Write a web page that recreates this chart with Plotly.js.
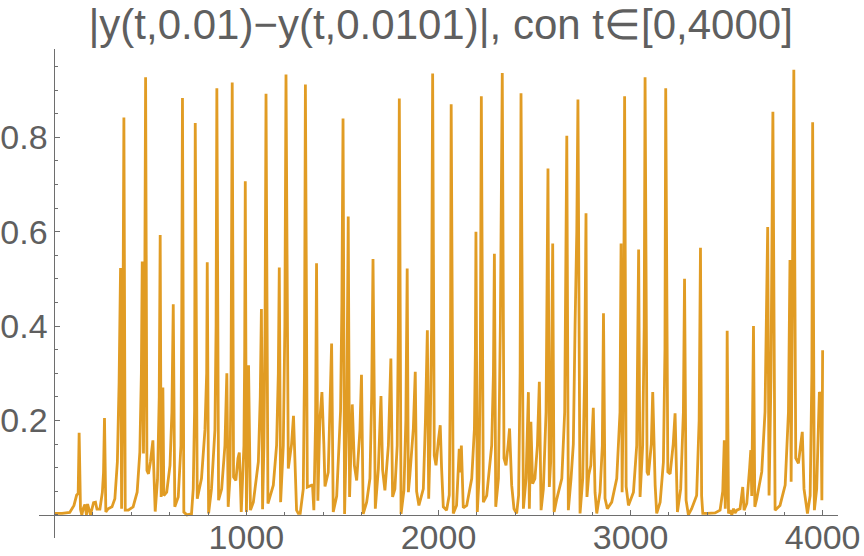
<!DOCTYPE html>
<html>
<head>
<meta charset="utf-8">
<script src="https://cdn.plot.ly/plotly-3.0.1.min.js"></script>
<style>
  html, body { margin: 0; padding: 0; background: #fff; }
  #chart { width: 864px; height: 556px; }
</style>
</head>
<body>
<div id="chart"></div>
<script>
// |y(t,0.01) - y(t,0.0101)|, t in [0,4000]
const tValues = [
  0, 40, 80, 102, 116, 124, 129, 136, 143, 150, 159, 167, 173, 180, 188, 196, 204, 214, 222, 237,
  250, 256, 261, 268, 280, 300, 315, 328, 337, 344.6, 350, 356, 362, 369, 385, 410, 431, 445, 453, 457.5,
  464, 470, 475, 482, 490, 500, 513, 519, 525, 537, 546, 551, 556, 562, 565, 570, 585, 602, 612, 619,
  627, 645, 659, 663, 667, 674, 690, 714, 723, 730, 733.5, 744, 766, 784, 793, 796, 803, 818, 836, 842,
  846, 855, 871, 888, 895, 898, 905, 914, 920, 926, 933, 945, 956, 963, 969, 973, 987, 991, 994, 1000,
  1005, 1011, 1021, 1036, 1062, 1072, 1078, 1084, 1091, 1097, 1102, 1112, 1140, 1157, 1166, 1171, 1178, 1192, 1200, 1206,
  1218, 1235, 1245, 1261, 1270, 1280, 1296, 1302, 1307, 1317, 1340, 1344, 1351, 1360, 1365, 1372, 1382, 1393, 1403, 1409,
  1426, 1437, 1443.5, 1452, 1470, 1490, 1497, 1503, 1511, 1522, 1530, 1537, 1545, 1551, 1562, 1574, 1591, 1599, 1608, 1626,
  1643, 1652, 1659, 1671, 1687, 1700.5, 1709, 1721, 1739, 1752, 1761, 1773, 1785, 1791, 1796, 1805, 1820, 1830, 1837, 1843,
  1851, 1869, 1879, 1886, 1898, 1921, 1932, 1942, 1949, 1956, 1964, 1969.5, 1978, 1987, 2000, 2009, 2016, 2025, 2042, 2056,
  2062, 2066, 2077, 2094, 2108, 2113, 2119, 2129, 2147, 2173, 2187, 2192, 2195, 2202, 2211, 2218, 2223, 2233.5, 2251, 2277,
  2286, 2291, 2298, 2312, 2322, 2332, 2341, 2351.5, 2363, 2370, 2381, 2393, 2407, 2417, 2425, 2429.6, 2442, 2456, 2468, 2473,
  2481, 2490, 2502, 2515, 2525, 2534, 2546, 2560, 2570, 2577, 2584, 2594.6, 2602, 2616, 2642, 2657, 2668, 2676, 2690, 2702,
  2711, 2720, 2726, 2737, 2751, 2761, 2768, 2773, 2782, 2793, 2806, 2815, 2824, 2841, 2853, 2859, 2867, 2879, 2902, 2928,
  2945, 2950.5, 2956, 2963, 2969, 2977, 2989, 3015, 3032, 3042, 3049.5, 3063, 3071, 3075.5, 3086, 3093, 3108, 3115.4, 3128, 3136,
  3154, 3171, 3179, 3183, 3194, 3206, 3222, 3231.7, 3244, 3261, 3275, 3281, 3289, 3301, 3318, 3344, 3357, 3364, 3370, 3376,
  3400, 3440, 3466, 3480, 3488, 3493, 3500, 3503, 3510, 3518, 3527, 3536, 3544, 3553, 3570, 3584, 3591, 3605, 3620, 3626,
  3631, 3640, 3647, 3657, 3683, 3700, 3714, 3721, 3731, 3741, 3752.5, 3778, 3805, 3822, 3830, 3836, 3843, 3850, 3860, 3874,
  3886, 3894, 3903, 3921, 3935, 3944, 3948, 3957, 3969, 3983, 3991, 3996, 4000
];
const diffValues = [
  0.003, 0.003, 0.005, 0.02, 0.042, 0.045, 0.174, 0.012, 0.0, 0.013, 0.022, 0.0, 0.023, 0.01, 0.0, 0.013, 0.026, 0.027, 0.012, 0.012,
  0.048, 0.09, 0.205, 0.006, 0.013, 0.017, 0.034, 0.112, 0.28, 0.523, 0.013, 0.28, 0.842, 0.01, 0.01, 0.017, 0.048, 0.133, 0.3, 0.537,
  0.13, 0.4, 0.927, 0.094, 0.087, 0.112, 0.158, 0.08, 0.007, 0.075, 0.25, 0.593, 0.038, 0.2, 0.27, 0.041, 0.048, 0.105, 0.218, 0.446,
  0.017, 0.038, 0.147, 0.4, 0.883, 0.006, 0.0, 0.002, 0.055, 0.22, 0.83, 0.034, 0.077, 0.18, 0.3, 0.535, 0.003, 0.055, 0.18, 0.4,
  0.904, 0.031, 0.055, 0.147, 0.25, 0.30, 0.017, 0.077, 0.3, 0.916, 0.08, 0.073, 0.12, 0.132, 0.06, 0.006, 0.147, 0.35, 0.707, 0.006,
  0.15, 0.317, 0.01, 0.027, 0.112, 0.25, 0.436, 0.012, 0.147, 0.4, 0.892, 0.024, 0.063, 0.147, 0.3, 0.524, 0.027, 0.147, 0.4, 0.933,
  0.098, 0.15, 0.21, 0.01, 0.003, 0.003, 0.055, 0.3, 0.912, 0.059, 0.063, 0.063, 0.01, 0.2, 0.533, 0.03, 0.2, 0.26, 0.15, 0.06,
  0.09, 0.25, 0.363, 0.006, 0.04, 0.22, 0.45, 0.84, 0.002, 0.2, 0.632, 0.038, 0.18, 0.234, 0.105, 0.073, 0.18, 0.297, 0.002, 0.027,
  0.077, 0.25, 0.542, 0.013, 0.098, 0.252, 0.095, 0.052, 0.147, 0.331, 0.038, 0.055, 0.147, 0.4, 0.882, 0.002, 0.052, 0.2, 0.522, 0.048,
  0.084, 0.183, 0.303, 0.05, 0.02, 0.055, 0.2, 0.391, 0.034, 0.147, 0.4, 0.935, 0.126, 0.105, 0.16, 0.19, 0.1, 0.017, 0.01, 0.042,
  0.3, 0.87, 0.003, 0.02, 0.14, 0.09, 0.147, 0.015, 0.02, 0.077, 0.183, 0.35, 0.6, 0.006, 0.077, 0.35, 0.887, 0.027, 0.041, 0.147,
  0.3, 0.553, 0.017, 0.077, 0.4, 0.936, 0.12, 0.105, 0.15, 0.183, 0.063, 0.013, 0.003, 0.041, 0.3, 0.893, 0.013, 0.077, 0.26, 0.013,
  0.197, 0.066, 0.077, 0.147, 0.282, 0.01, 0.055, 0.218, 0.734, 0.059, 0.112, 0.575, 0.006, 0.034, 0.077, 0.218, 0.803, 0.01, 0.077, 0.15,
  0.4, 0.6, 0.88, 0.003, 0.077, 0.3, 0.639, 0.038, 0.084, 0.105, 0.227, 0.048, 0.003, 0.048, 0.147, 0.427, 0.035, 0.013, 0.027, 0.077,
  0.218, 0.575, 0.048, 0.3, 0.887, 0.06, 0.02, 0.048, 0.147, 0.562, 0.038, 0.147, 0.4, 0.927, 0.091, 0.084, 0.15, 0.26, 0.063, 0.003,
  0.027, 0.112, 0.35, 0.904, 0.091, 0.087, 0.15, 0.215, 0.006, 0.055, 0.218, 0.5, 0.031, 0.0, 0.013, 0.041, 0.2, 0.566, 0.04, 0.003,
  0.003, 0.004, 0.01, 0.05, 0.158, 0.013, 0.1, 0.39, 0.003, 0.01, 0.0, 0.013, 0.004, 0.01, 0.013, 0.059, 0.01, 0.024, 0.1, 0.137,
  0.04, 0.4, 0.017, 0.034, 0.091, 0.218, 0.61, 0.041, 0.29, 0.854, 0.01, 0.02, 0.063, 0.218, 0.54, 0.07, 0.5, 0.943, 0.12, 0.109,
  0.15, 0.176, 0.055, 0.003, 0.041, 0.3, 0.832, 0.01, 0.055, 0.26, 0.255, 0.031, 0.349
];

const xTicks = [1000, 2000, 3000, 4000];
const yTicks = [0.2, 0.4, 0.6, 0.8];

const xRange = [-80, 4080];
const yRange = [-0.049, 0.987];

const axisColor = "#6e6e6e";
const textColor = "#5f5f5f";
const tickFont = { family: "Liberation Sans, Arial, sans-serif", size: 34, color: textColor };

const curve = {
  x: tValues,
  y: diffValues,
  mode: "lines",
  line: { color: "#E19C24", width: 2.8 },
  hoverinfo: "skip"
};

const layout = {
  width: 864,
  height: 556,
  margin: { l: 39, r: 26, t: 49, b: 18, pad: 0 },
  paper_bgcolor: "#ffffff",
  plot_bgcolor: "#ffffff",
  showlegend: false,
  title: {
    text: "|y(t,0.01)\u2212y(t,0.0101)|, con t\u2208[0,4000]",
    font: { family: "Liberation Sans, Arial, sans-serif", size: 42, color: textColor },
    x: 0.51,
    xref: "container",
    xanchor: "center",
    y: 0.982,
    yref: "container",
    yanchor: "top"
  },
  xaxis: {
    range: xRange,
    anchor: "free",
    position: (0 - yRange[0]) / (yRange[1] - yRange[0]),
    showgrid: false,
    zeroline: false,
    showline: true,
    linecolor: axisColor,
    linewidth: 1,
    ticks: "inside",
    ticklen: 5,
    tickwidth: 1,
    tickcolor: axisColor,
    tickmode: "array",
    tickvals: xTicks,
    ticktext: xTicks.map(String),
    tickfont: tickFont,
    ticklabelstandoff: -8,
    minor: { tickmode: "linear", tick0: 0, dtick: 200, ticks: "inside", ticklen: 3, tickcolor: axisColor, showgrid: false }
  },
  yaxis: {
    range: yRange,
    anchor: "free",
    position: (0 - xRange[0]) / (xRange[1] - xRange[0]),
    showgrid: false,
    zeroline: false,
    showline: true,
    linecolor: axisColor,
    linewidth: 1,
    ticks: "inside",
    ticklen: 5,
    tickwidth: 1,
    tickcolor: axisColor,
    tickmode: "array",
    tickvals: yTicks,
    ticktext: yTicks.map(v => v.toFixed(1)),
    tickfont: tickFont,
    minor: { tickmode: "linear", tick0: 0, dtick: 0.05, ticks: "inside", ticklen: 3, tickcolor: axisColor, showgrid: false }
  }
};

Plotly.newPlot("chart", [curve], layout, { staticPlot: true, displayModeBar: false });
</script>
</body>
</html>
